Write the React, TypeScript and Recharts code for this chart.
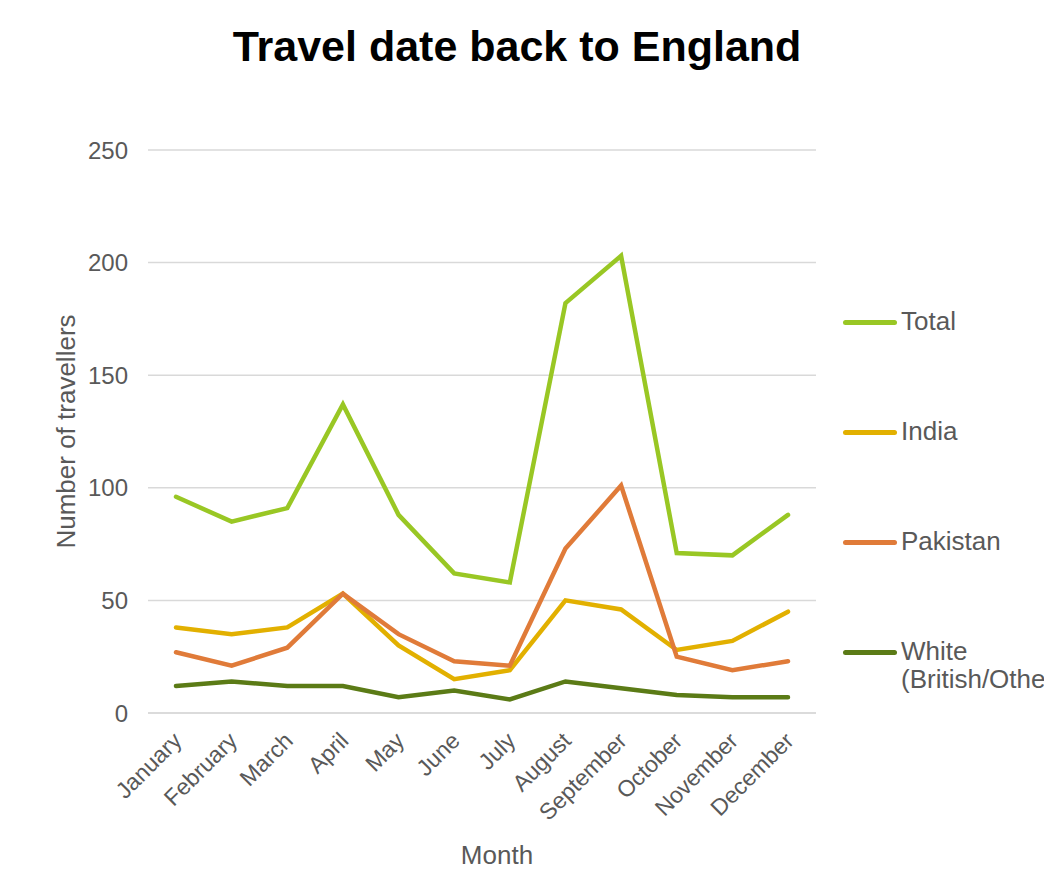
import React from 'react'
import { LineChart, Line, XAxis, YAxis, CartesianGrid, Label } from 'recharts'

const months = ['January', 'February', 'March', 'April', 'May', 'June', 'July', 'August', 'September', 'October', 'November', 'December']
const total = [96, 85, 91, 137, 88, 62, 58, 182, 203, 71, 70, 88]
const india = [38, 35, 38, 53, 30, 15, 19, 50, 46, 28, 32, 45]
const pakistan = [27, 21, 29, 53, 35, 23, 21, 73, 101, 25, 19, 23]
const white = [12, 14, 12, 12, 7, 10, 6, 14, 11, 8, 7, 7]
const yTicks = [0, 50, 100, 150, 200, 250]

const series = [
  { key: 'total', name: 'Total', color: '#99c724' },
  { key: 'india', name: 'India', color: '#e2b000' },
  { key: 'pakistan', name: 'Pakistan', color: '#e07b39' },
  { key: 'white', name: 'White\n(British/Other)', color: '#5b7b16' },
]

const data = months.map((month, i) => ({
  month,
  total: total[i],
  india: india[i],
  pakistan: pakistan[i],
  white: white[i],
}))

const FONT = 'Arial, "Liberation Sans", sans-serif'
const GREY = '#595959'

const MonthTick = (props: any) => {
  const { x, y, payload } = props
  return (
    <text
      x={x}
      y={y}
      dx={-10}
      dy={20}
      textAnchor="end"
      transform={`rotate(-45, ${x}, ${y})`}
      fill={GREY}
      fontSize={23}
      fontFamily={FONT}
    >
      {payload.value}
    </text>
  )
}

const App = () => {
  return (
    <div style={{ position: 'relative', width: 1044, height: 865, overflow: 'hidden', fontFamily: FONT }}>
      <div
        style={{
          position: 'absolute',
          top: 14,
          left: 0,
          width: 1018,
          textAlign: 'center',
          fontSize: 43,
          fontWeight: 'bold',
          color: '#000',
        }}
      >
        Travel date back to England
      </div>
      <LineChart
        width={1044}
        height={865}
        data={data}
        margin={{ top: 142, right: 236, bottom: 9, left: 80 }}
        style={{ position: 'absolute', top: 0, left: 0 }}
      >
        <CartesianGrid vertical={false} stroke="#d9d9d9" strokeWidth={1.5} />
        <XAxis
          dataKey="month"
          interval={0}
          padding={{ left: 28, right: 28 }}
          height={151}
          axisLine={{ stroke: '#d9d9d9', strokeWidth: 1.5 }}
          tickLine={false}
          tick={<MonthTick />}
        >
          <Label value="Month" position="insideBottom" offset={0} dx={15} fill={GREY} fontSize={26} fontFamily={FONT} />
        </XAxis>
        <YAxis
          domain={[0, 250]}
          ticks={yTicks}
          width={60}
          axisLine={false}
          tickLine={false}
          tickMargin={14}
          tick={{ fill: GREY, fontSize: 24, fontFamily: FONT }}
        >
          <Label
            value="Number of travellers"
            angle={-90}
            position="insideLeft"
            offset={-22}
            style={{ textAnchor: 'middle' }}
            fill={GREY}
            fontSize={26}
            fontFamily={FONT}
          />
        </YAxis>
        {series.map((s) => (
          <Line
            key={s.key}
            type="linear"
            dataKey={s.key}
            name={s.name}
            stroke={s.color}
            strokeWidth={4.5}
            strokeLinecap="round"
            dot={false}
            activeDot={false}
            isAnimationActive={false}
          />
        ))}
      </LineChart>
      {series.map((s, i) => (
        <div
          key={s.key}
          style={{
            position: 'absolute',
            left: 835,
            top: 299 + i * 110,
            display: 'flex',
            alignItems: 'flex-start',
            fontSize: 26,
            color: GREY,
            whiteSpace: 'pre',
          }}
        >
          <span
            style={{
              display: 'inline-block',
              width: 54,
              height: 5,
              borderRadius: 3,
              background: s.color,
              marginTop: 13,
              marginRight: 4,
              flex: 'none',
            }}
          />
          <span style={{ lineHeight: '28px' }}>{s.name}</span>
        </div>
      ))}
    </div>
  )
}

export default App
